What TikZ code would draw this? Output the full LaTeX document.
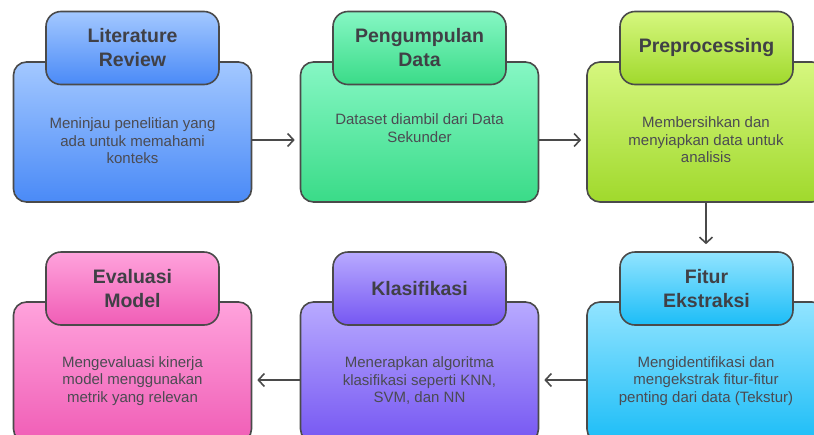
\documentclass[tikz,border=0pt]{standalone}
\usepackage{fontspec}
\setmainfont{Liberation Sans}
\usetikzlibrary{arrows.meta}
\definecolor{lineGray}{HTML}{4A4A4A}
\definecolor{textGray}{HTML}{4B4B52}
\definecolor{blueT}{HTML}{A3C8FF}\definecolor{blueB}{HTML}{4A8AF7}
\definecolor{greenT}{HTML}{86F7C4}\definecolor{greenB}{HTML}{3ADB88}
\definecolor{limeT}{HTML}{D6F77F}\definecolor{limeB}{HTML}{A0D92C}
\definecolor{cyanT}{HTML}{92E4FF}\definecolor{cyanB}{HTML}{1CBDF7}
\definecolor{violetT}{HTML}{B8AAFF}\definecolor{violetB}{HTML}{7657F2}
\definecolor{pinkT}{HTML}{FFA3DC}\definecolor{pinkB}{HTML}{F05DB6}
\begin{document}
\begin{tikzpicture}[x=1pt, y=-1pt, >={Straight Barb[length=6pt,width=13pt]}]
        \tikzset{body/.style={draw=lineGray, line width=1.6pt, rounded corners=13pt, minimum width=238pt, minimum height=140pt},
                 ttl/.style={draw=lineGray, line width=1.6pt, rounded corners=15pt, minimum width=173pt, minimum height=73pt, align=center, text=textGray!85!black, font=\fontsize{19.5}{24}\selectfont\bfseries},
                 txt/.style={align=center, text=textGray, font=\fontsize{15}{17.5}\selectfont},
                 flow/.style={->, draw=lineGray, line width=1.6pt, shorten >=5pt}}
        \clip (0,0) rectangle (814,434);
        % top row
        \node[body, top color=blueT, bottom color=blueB] (lit) at (132.5,132) {};
        \node[ttl, top color=blueT, bottom color=blueB] (litT) at (132.5,48) {Literature\\Review};
        \node[txt] (litX) at (132.5,141) {Meninjau penelitian yang\\ada untuk memahami\\konteks};
        \node[body, top color=greenT, bottom color=greenB] (pen) at (419.5,132) {};
        \node[ttl, top color=greenT, bottom color=greenB] (penT) at (419.5,48) {Pengumpulan\\Data};
        \node[txt] (penX) at (419.5,128) {Dataset diambil dari Data\\Sekunder};
        \node[body, top color=limeT, bottom color=limeB] (pre) at (706,132) {};
        \node[ttl, top color=limeT, bottom color=limeB] (preT) at (706.5,48) {Preprocessing};
        \node[txt] (preX) at (706,140) {Membersihkan dan\\menyiapkan data untuk\\analisis};
        % bottom row
        \node[body, top color=cyanT, bottom color=cyanB] (fit) at (706,372) {};
        \node[ttl, top color=cyanT, bottom color=cyanB] (fitT) at (706.5,288.5) {Fitur\\Ekstraksi};
        \node[txt] (fitX) at (706,381) {Mengidentifikasi dan\\mengekstrak fitur-fitur\\penting dari data (Tekstur)};
        \node[body, top color=violetT, bottom color=violetB] (kla) at (419.5,372) {};
        \node[ttl, top color=violetT, bottom color=violetB] (klaT) at (419.5,288.5) {Klasifikasi};
        \node[txt] (klaX) at (419.5,381) {Menerapkan algoritma\\klasifikasi seperti KNN,\\SVM, dan NN};
        \node[body, top color=pinkT, bottom color=pinkB] (eva) at (132.5,372) {};
        \node[ttl, top color=pinkT, bottom color=pinkB] (evaT) at (132.5,288.5) {Evaluasi\\Model};
        \node[txt] (evaX) at (132.5,381) {Mengevaluasi kinerja\\model menggunakan\\metrik yang relevan};
        \draw[flow] ([yshift=-8pt]lit.east) -- ([yshift=-8pt]pen.west);
        \draw[flow] ([yshift=-8pt]pen.east) -- ([yshift=-8pt]pre.west);
        \draw[flow, shorten >=7pt] (pre.south) -- (fitT.north -| pre.south);
        \draw[flow] ([yshift=-8pt]fit.west) -- ([yshift=-8pt]kla.east);
        \draw[flow] ([yshift=-8pt]kla.west) -- ([yshift=-8pt]eva.east);
    \end{tikzpicture}
\end{document}
